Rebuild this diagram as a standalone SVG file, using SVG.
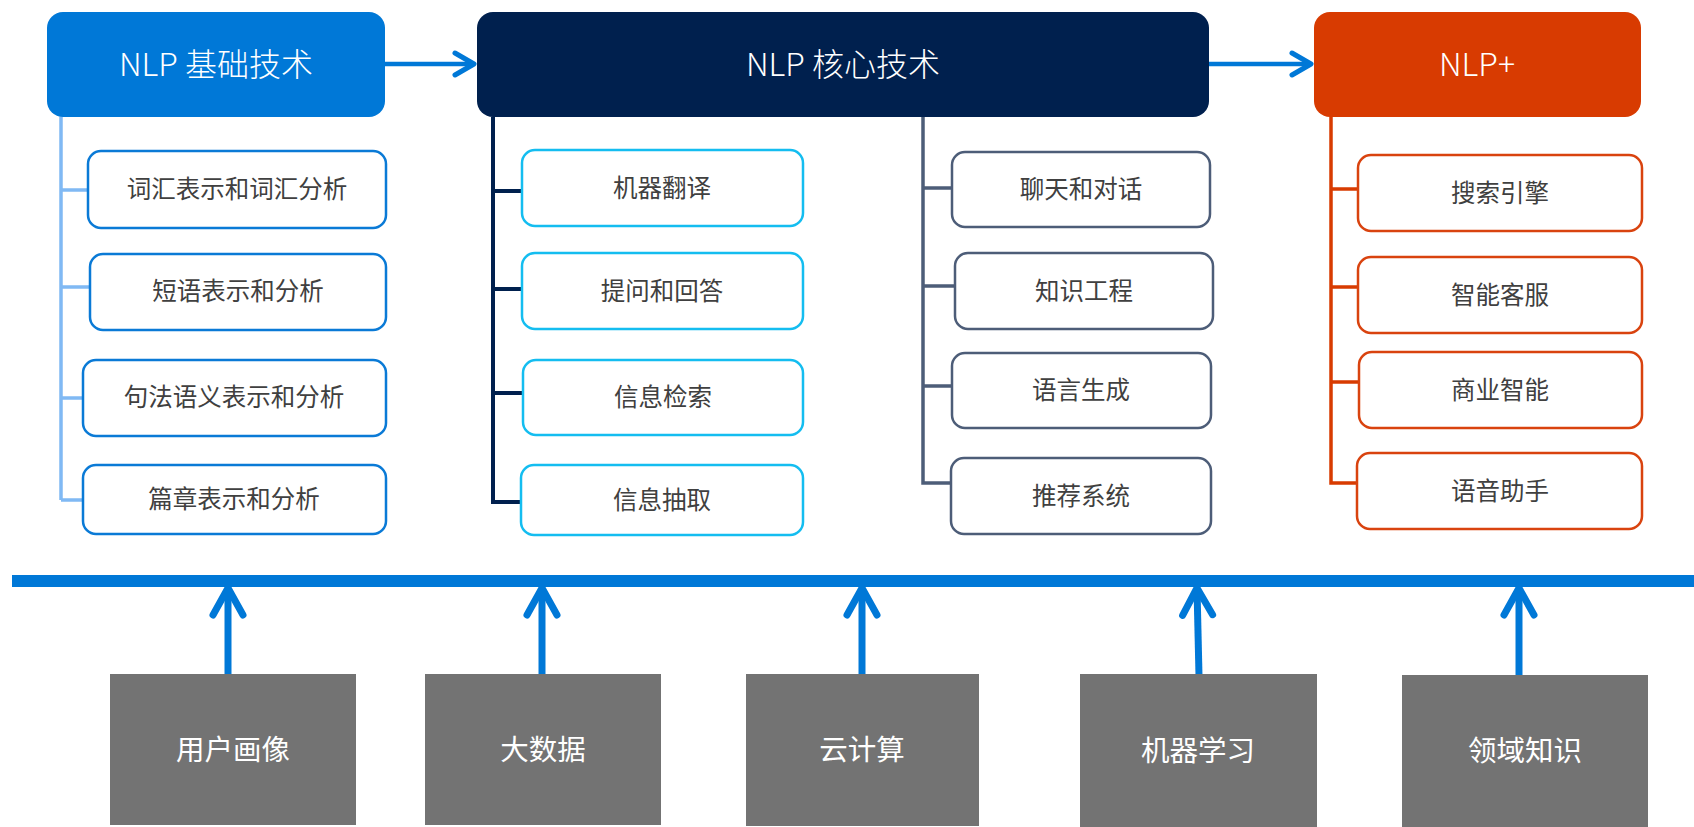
<svg xmlns="http://www.w3.org/2000/svg" width="1694" height="827" viewBox="0 0 1694 827">
<style>
.hdr{font-family:"Noto Sans CJK SC","Noto Sans",sans-serif;font-weight:300;font-size:32px;fill:#fff;text-anchor:middle}
.lbl{font-family:"Noto Sans CJK SC","Noto Sans",sans-serif;font-size:24.5px;fill:#404040;text-anchor:middle}
.base{font-family:"Noto Sans CJK SC","Noto Sans",sans-serif;font-size:28.5px;fill:#fff;text-anchor:middle}
.bx{fill:#fff;stroke-width:2.5}
.b1{stroke:#0a7ad6}
.b2{stroke:#14bdf0}
.b3{stroke:#4d5d78}
.b4{stroke:#d9430f}
.l1{stroke:#80b9f4;stroke-width:3.5;fill:none}
.l2{stroke:#00204e;stroke-width:4;fill:none}
.l3{stroke:#4d5d78;stroke-width:3.5;fill:none}
.l4{stroke:#d83b01;stroke-width:3.5;fill:none}
.arr{stroke:#0078d7;stroke-width:4.5;fill:none}
.up{stroke:#0078d7;stroke-width:7;fill:none}
.gray{fill:#737373}
</style>
<defs>
<marker id="chev" markerUnits="userSpaceOnUse" viewBox="-26 -16 30 32" refX="0" refY="0" markerWidth="30" markerHeight="32" orient="auto">
<path d="M-19,-11 L0,0 L-19,11" fill="none" stroke="#0078d7" stroke-width="5" stroke-linecap="round" stroke-linejoin="round"/>
</marker>
<marker id="chevUp" markerUnits="userSpaceOnUse" viewBox="-34 -22 40 44" refX="0" refY="0" markerWidth="40" markerHeight="44" orient="auto">
<path d="M-27,-15 L0,0 L-27,15" fill="none" stroke="#0078d7" stroke-width="7" stroke-linecap="round" stroke-linejoin="round"/>
</marker>
</defs>
<rect width="1694" height="827" fill="#fff"/>

<g id="connectors">
<line class="arr" x1="385" y1="64" x2="474" y2="64" marker-end="url(#chev)"/>
<line class="arr" x1="1209" y1="64" x2="1311" y2="64" marker-end="url(#chev)"/>
<path class="l1" d="M61,117 V500 M61,190 H88 M61,287 H90 M61,398 H83 M61,500 H83"/>
<path class="l2" d="M493,117 V502 H521 M493,191 H522 M493,289 H522 M493,393 H523"/>
<path class="l3" d="M923,117 V483 H951 M923,188 H952 M923,286 H955 M923,386 H952"/>
<path class="l4" d="M1331,117 V483 H1357 M1331,189 H1358 M1331,287 H1358 M1331,382 H1359"/>
<rect x="12" y="575" width="1682" height="12" fill="#0078d7"/>
<line class="up" x1="228" y1="674" x2="228" y2="588" marker-end="url(#chevUp)"/>
<line class="up" x1="542" y1="674" x2="542" y2="588" marker-end="url(#chevUp)"/>
<line class="up" x1="862" y1="674" x2="862" y2="588" marker-end="url(#chevUp)"/>
<line class="up" x1="1199" y1="676" x2="1197" y2="588" marker-end="url(#chevUp)"/>
<line class="up" x1="1519" y1="675" x2="1519" y2="588" marker-end="url(#chevUp)"/>
</g>

<g id="nlp-basic">
<rect x="47" y="12" width="338" height="105" rx="16" fill="#0078d7"/>
<text class="hdr" x="216" y="76">NLP 基础技术</text>
</g>
<g id="nlp-core">
<rect x="477" y="12" width="732" height="105" rx="16" fill="#00204e"/>
<text class="hdr" x="843" y="76">NLP 核心技术</text>
</g>
<g id="nlp-plus">
<rect x="1314" y="12" width="327" height="105" rx="16" fill="#d83b01"/>
<text class="hdr" x="1477" y="76">NLP+</text>
</g>

<g id="n-cihui"><rect class="bx b1" x="88" y="151" width="298" height="77" rx="13"/><text class="lbl" x="237" y="198">词汇表示和词汇分析</text></g>
<g id="n-duanyu"><rect class="bx b1" x="90" y="254" width="296" height="76" rx="13"/><text class="lbl" x="238" y="300">短语表示和分析</text></g>
<g id="n-jufa"><rect class="bx b1" x="83" y="360" width="303" height="76" rx="13"/><text class="lbl" x="234" y="406">句法语义表示和分析</text></g>
<g id="n-pianzhang"><rect class="bx b1" x="83" y="465" width="303" height="69" rx="13"/><text class="lbl" x="234" y="508">篇章表示和分析</text></g>

<g id="n-fanyi"><rect class="bx b2" x="522" y="150" width="281" height="76" rx="13"/><text class="lbl" x="662" y="197">机器翻译</text></g>
<g id="n-tiwen"><rect class="bx b2" x="522" y="253" width="281" height="76" rx="13"/><text class="lbl" x="662" y="300">提问和回答</text></g>
<g id="n-jiansuo"><rect class="bx b2" x="523" y="360" width="280" height="75" rx="13"/><text class="lbl" x="663" y="406">信息检索</text></g>
<g id="n-chouqu"><rect class="bx b2" x="521" y="465" width="282" height="70" rx="13"/><text class="lbl" x="662" y="509">信息抽取</text></g>

<g id="n-liaotian"><rect class="bx b3" x="952" y="152" width="258" height="75" rx="13"/><text class="lbl" x="1081" y="198">聊天和对话</text></g>
<g id="n-zhishi"><rect class="bx b3" x="955" y="253" width="258" height="76" rx="13"/><text class="lbl" x="1084" y="300">知识工程</text></g>
<g id="n-shengcheng"><rect class="bx b3" x="952" y="353" width="259" height="75" rx="13"/><text class="lbl" x="1081" y="399">语言生成</text></g>
<g id="n-tuijian"><rect class="bx b3" x="951" y="458" width="260" height="76" rx="13"/><text class="lbl" x="1081" y="505">推荐系统</text></g>

<g id="n-sousuo"><rect class="bx b4" x="1358" y="155" width="284" height="76" rx="13"/><text class="lbl" x="1500" y="202">搜索引擎</text></g>
<g id="n-kefu"><rect class="bx b4" x="1358" y="257" width="284" height="76" rx="13"/><text class="lbl" x="1500" y="304">智能客服</text></g>
<g id="n-shangye"><rect class="bx b4" x="1359" y="352" width="283" height="76" rx="13"/><text class="lbl" x="1500" y="399">商业智能</text></g>
<g id="n-yuyin"><rect class="bx b4" x="1357" y="453" width="285" height="76" rx="13"/><text class="lbl" x="1500" y="500">语音助手</text></g>

<g id="b-yonghu"><rect class="gray" x="110" y="674" width="246" height="151"/><text class="base" x="233" y="760">用户画像</text></g>
<g id="b-dashuju"><rect class="gray" x="425" y="674" width="236" height="151"/><text class="base" x="543" y="760">大数据</text></g>
<g id="b-yun"><rect class="gray" x="746" y="674" width="233" height="152"/><text class="base" x="862" y="760">云计算</text></g>
<g id="b-jiqi"><rect class="gray" x="1080" y="674" width="237" height="153"/><text class="base" x="1198" y="761">机器学习</text></g>
<g id="b-lingyu"><rect class="gray" x="1402" y="675" width="246" height="152"/><text class="base" x="1525" y="761">领域知识</text></g>
</svg>
